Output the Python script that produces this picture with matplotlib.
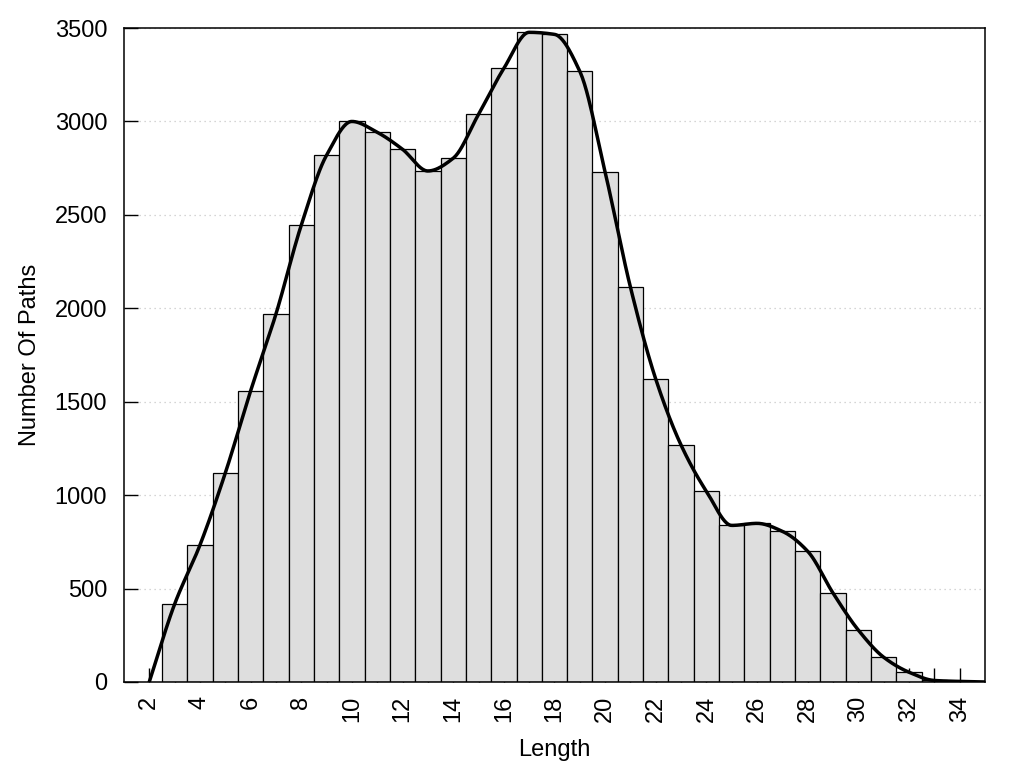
import numpy as np
import matplotlib
matplotlib.use('Agg')
from matplotlib import pyplot as plt
from matplotlib.ticker import MultipleLocator

plt.rcParams['font.family'] = ['Liberation Sans', 'DejaVu Sans']

# path length -> number of paths
lengths = list(range(3, 35))
counts = [416, 732, 1117, 1557, 1968, 2444, 2819, 3000, 2942, 2851,
          2735, 2803, 3038, 3284, 3477, 3466, 3268, 2728, 2112, 1620,
          1267, 1020, 838, 849, 806, 699, 475, 277, 132, 52, 8, 3]

# smooth line goes through the bar tops, with zero at both ends
curve_x = [2] + lengths + [35]
curve_y = [0] + counts + [0]


def pchip(x, y, xs):
    # monotone cubic (Fritsch-Carlson), flat at local peaks/dips
    x = np.asarray(x, float)
    y = np.asarray(y, float)
    h = np.diff(x)
    delta = np.diff(y) / h
    n = len(x)
    d = np.zeros(n)
    for k in range(1, n - 1):
        if delta[k - 1] * delta[k] > 0:
            w1 = 2 * h[k] + h[k - 1]
            w2 = h[k] + 2 * h[k - 1]
            d[k] = (w1 + w2) / (w1 / delta[k - 1] + w2 / delta[k])
    d[0] = delta[0]
    d[-1] = delta[-1]
    idx = np.clip(np.searchsorted(x, xs) - 1, 0, n - 2)
    hk = h[idx]
    t = (xs - x[idx]) / hk
    h00 = 2 * t ** 3 - 3 * t ** 2 + 1
    h10 = t ** 3 - 2 * t ** 2 + t
    h01 = -2 * t ** 3 + 3 * t ** 2
    h11 = t ** 3 - t ** 2
    return (h00 * y[idx] + h10 * hk * d[idx]
            + h01 * y[idx + 1] + h11 * hk * d[idx + 1])


fig = plt.figure(figsize=(10.24, 7.68), dpi=100)
ax = fig.add_axes([0.121, 0.112, 0.841, 0.8515])

ax.bar(lengths, counts, width=1.0, color='#dedede', edgecolor='black',
       linewidth=0.9, zorder=2)

xs = np.linspace(2, 35, 800)
ax.plot(xs, pchip(curve_x, curve_y, xs), color='black', lw=2.5, zorder=3)

ax.set_xlim(1, 35)
ax.set_ylim(0, 3500)
ax.set_xticks(range(2, 35, 2))
ax.set_xticks(range(3, 35, 2), minor=True)
ax.yaxis.set_major_locator(MultipleLocator(500))

ax.grid(axis='y', color='#c8c8c8', linestyle=(0, (1, 3)), linewidth=0.9)
ax.set_axisbelow(True)

ax.tick_params(axis='x', which='both', direction='in', length=10,
               width=1, labelsize=17, rotation=90, pad=10, top=False)
ax.tick_params(axis='y', direction='in', length=10, width=1,
               labelsize=17, pad=12, right=False)
for lbl in ax.get_xticklabels():
    lbl.set_va('top')

for s in ax.spines.values():
    s.set_linewidth(1.1)

ax.set_xlabel('Length', fontsize=17, labelpad=12)
ax.set_ylabel('Number Of Paths', fontsize=17, labelpad=10)

fig.savefig('out.png', dpi=100)
